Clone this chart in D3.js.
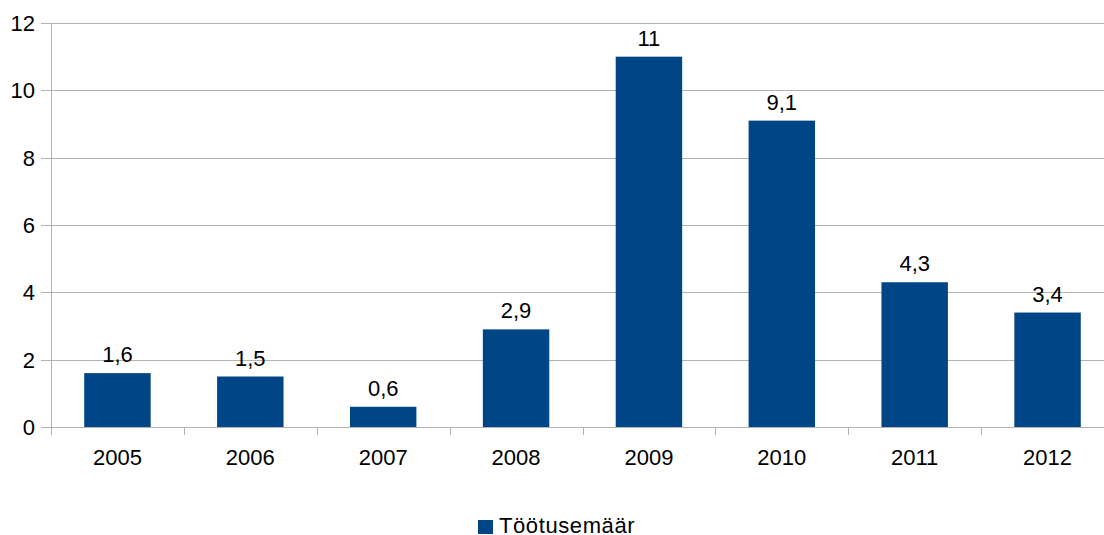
<!DOCTYPE html>
<html><head><meta charset="utf-8">
<script src="https://cdn.jsdelivr.net/npm/d3@7"></script>
<style>body{margin:0;background:#fff}svg{display:block;font-family:"Liberation Sans",Arial,sans-serif}</style>
</head><body><svg id="c" width="1104" height="535"></svg>
<script>
const categories = ["2005","2006","2007","2008","2009","2010","2011","2012"];
const values = [1.6,1.5,0.6,2.9,11,9.1,4.3,3.4];
const yTicks = [0,2,4,6,8,10,12];
const seriesName = "Töötusemäär";

(function(){
const svg = d3.select("#c");
const pL = 51, pR = 1114, pT = 23, pB = 427;
const fs = 22;
const x = d3.scaleBand().domain(categories).range([pL, pR]).paddingInner(0.5).paddingOuter(0.25);
const y = d3.scaleLinear().domain([0,12]).range([pB, pT]);
const grid = "#b3b3b3";
const step = x.step(), gap = (step - x.bandwidth())/2;

svg.append("g").selectAll("line").data(yTicks).join("line")
  .attr("x1", pL-10).attr("x2", 1104).attr("y1", d=>Math.round(y(d))+0.5).attr("y2", d=>Math.round(y(d))+0.5)
  .attr("stroke", grid).attr("stroke-width", 1);
svg.append("line").attr("x1", pL+0.5).attr("x2", pL+0.5).attr("y1", pT).attr("y2", pB+8)
  .attr("stroke", grid);
svg.append("g").selectAll("line").data(categories.slice(1)).join("line")
  .attr("x1", d=>Math.round(x(d)-gap)+0.5).attr("x2", d=>Math.round(x(d)-gap)+0.5)
  .attr("y1", pB).attr("y2", pB+8).attr("stroke", grid);

svg.append("g").selectAll("text").data(yTicks).join("text")
  .attr("x", pL-16).attr("y", d=>y(d)+8).attr("text-anchor","end")
  .attr("font-size", fs).attr("fill","#000").text(d=>d);

svg.append("g").selectAll("rect").data(values).join("rect")
  .attr("x", (d,i)=>x(categories[i])).attr("width", x.bandwidth())
  .attr("y", d=>y(d)).attr("height", d=>y(0)-y(d)).attr("fill","#004586");

svg.append("g").selectAll("text").data(values).join("text")
  .attr("x", (d,i)=>x(categories[i])+x.bandwidth()/2).attr("y", d=>y(d)-11)
  .attr("text-anchor","middle").attr("font-size", fs).attr("fill","#000")
  .text(d=>String(d).replace(".", ","));

svg.append("g").selectAll("text").data(categories).join("text")
  .attr("x", d=>x(d)+x.bandwidth()/2).attr("y", pB+38)
  .attr("text-anchor","middle").attr("font-size", fs).attr("fill","#000").text(d=>d);

svg.append("rect").attr("x", 478).attr("y", 520).attr("width", 15).attr("height", 14).attr("fill","#004586");
svg.append("text").attr("x", 499).attr("y", 533).attr("font-size", fs).attr("letter-spacing", 0.6)
  .attr("fill","#000").text(seriesName);
})();
</script></body></html>
